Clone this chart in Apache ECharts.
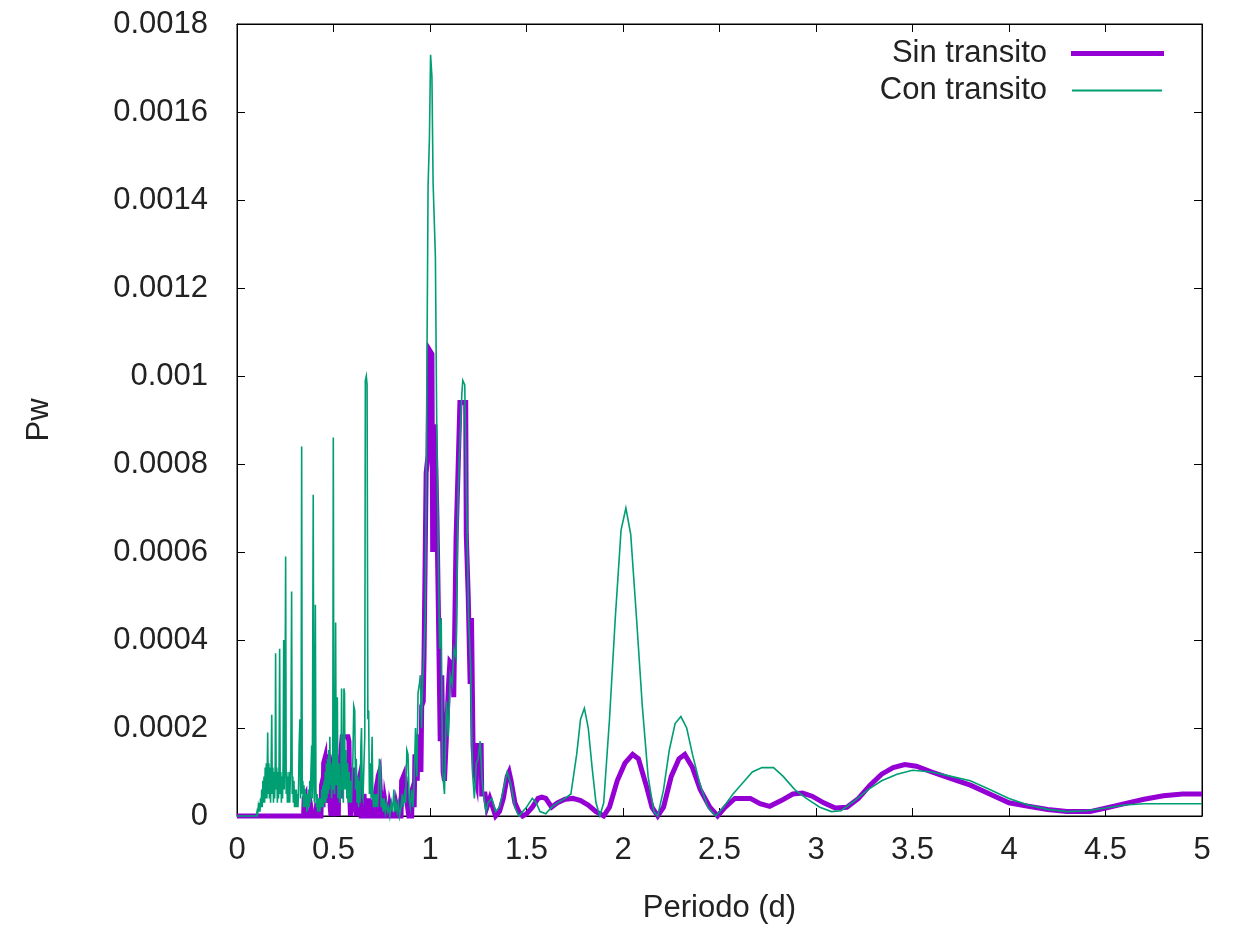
<!DOCTYPE html>
<html>
<head>
<meta charset="utf-8">
<title>Periodograma</title>
<script src="https://cdn.jsdelivr.net/npm/echarts@6/dist/echarts.min.js"></script>
<style>
  html, body { margin: 0; padding: 0; background: #fff; }
  #chart { width: 1233px; height: 929px; }
</style>
</head>
<body>
<div id="chart"></div>
<script>
// Periodogram of the light curve: power (Pw) against trial period in days.

const xTicks = [0, 0.5, 1, 1.5, 2, 2.5, 3, 3.5, 4, 4.5, 5];
const yTicks = [0, 0.0002, 0.0004, 0.0006, 0.0008, 0.001, 0.0012, 0.0014, 0.0016, 0.0018];
const seriesNames = ['Sin transito', 'Con transito'];

// [period (d), power] — light curve with the transits removed
const sinTransito = [
  [0, 0], [0.30, 0], [0.345, 0], [0.348, 0.00004], [0.353, 0.000045], [0.356, 0.00001],
  [0.36, 0], [0.38, 0], [0.383, 0.00002], [0.388, 0.00002], [0.391, 0], [0.41, 0],
  [0.413, 0.00003], [0.418, 0.00003], [0.421, 0], [0.435, 0], [0.438, 0.00007],
  [0.443, 0.00008], [0.446, 0.00002], [0.449, 0.00012], [0.455, 0.00013], [0.458, 0.00004],
  [0.461, 0.00014], [0.47, 0.00014], [0.473, 0.00003], [0.476, 0.00014], [0.48, 0.00013],
  [0.483, 0.00002], [0.487, 0], [0.495, 0], [0.498, 0.00006], [0.503, 0.00007],
  [0.506, 0.00001], [0.51, 0], [0.513, 0.00009], [0.518, 0.00011], [0.521, 0.00003],
  [0.525, 0], [0.528, 0.00012], [0.533, 0.00013], [0.536, 0.00004], [0.539, 0.00015],
  [0.545, 0.00018], [0.575, 0.00018], [0.58, 0.00017], [0.584, 0.00005], [0.588, 0],
  [0.597, 0], [0.60, 0.00008], [0.605, 0.00011], [0.611, 0.00011], [0.614, 0.00002],
  [0.618, 0], [0.628, 0], [0.631, 0.00008], [0.636, 0.00009], [0.639, 0.00002],
  [0.643, 0], [0.655, 0], [0.658, 0.00005], [0.662, 0.00005], [0.665, 0], [0.68, 0],
  [0.683, 0.00004], [0.688, 0.00004], [0.691, 0], [0.705, 0], [0.708, 0.00003],
  [0.712, 0.00004], [0.715, 0], [0.728, 0], [0.731, 0.00009], [0.738, 0.0001],
  [0.742, 0.00006], [0.746, 0.00005], [0.75, 0], [0.765, 0], [0.768, 0.00003],
  [0.776, 0.00003], [0.779, 0], [0.79, 0], [0.793, 0.00002], [0.80, 0.00002], [0.803, 0],
  [0.825, 0], [0.828, 0.00002], [0.835, 0.00002], [0.838, 0], [0.85, 0], [0.853, 0.00008],
  [0.862, 0.00009], [0.866, 0.00003], [0.87, 0.00009], [0.88, 0.00009], [0.884, 0.00002],
  [0.89, 0], [0.905, 0], [0.908, 0.00006], [0.915, 0.00007], [0.918, 0.00002],
  [0.922, 0.00014], [0.93, 0.00014], [0.934, 0.00008], [0.938, 0.00018], [0.95, 0.00018],
  [0.953, 0.0001], [0.957, 0.00025], [0.965, 0.00026], [0.969, 0.00036], [0.977, 0.00036],
  [0.98, 0.00078], [0.99, 0.00082], [0.993, 0.00082], [0.996, 0.00106], [1.01, 0.00105],
  [1.014, 0.0006], [1.022, 0.0006], [1.025, 0.00089], [1.033, 0.00089], [1.036, 0.00068],
  [1.04, 0.00068], [1.043, 0.00048], [1.05, 0.00048], [1.053, 0.00017], [1.058, 0.00017],
  [1.061, 0.00032], [1.065, 0.00032], [1.068, 0.0001], [1.075, 0.00008], [1.082, 0.00008],
  [1.085, 0.00018], [1.092, 0.00018], [1.095, 0.00029], [1.10, 0.00029], [1.103, 0.00035],
  [1.12, 0.00034], [1.123, 0.00027], [1.132, 0.00027], [1.135, 0.00063], [1.142, 0.00063],
  [1.145, 0.00078], [1.152, 0.00078], [1.155, 0.00094], [1.185, 0.00094], [1.188, 0.00064],
  [1.195, 0.00064], [1.198, 0.0005], [1.205, 0.0005], [1.208, 0.0003], [1.212, 0.0003],
  [1.215, 0.00045], [1.22, 0.00045], [1.223, 0.00016], [1.228, 0.00016], [1.231, 0.0001],
  [1.24, 0.00008], [1.245, 0.00016], [1.265, 0.00016], [1.268, 0.00005], [1.285, 0.00005],
  [1.295, 0.00002], [1.31, 0.00004], [1.325, 0.00002], [1.34, 0], [1.36, 0.00001],
  [1.38, 0.00004], [1.40, 0.00009], [1.41, 0.0001], [1.42, 0.00008], [1.44, 0.00003],
  [1.46, 0.00001], [1.48, 0], [1.50, 0.000005], [1.53, 0.00002], [1.56, 0.00004],
  [1.58, 0.000043], [1.60, 0.00004], [1.63, 0.00002], [1.66, 0.00003], [1.70, 0.000038],
  [1.74, 0.00004], [1.78, 0.000035], [1.82, 0.000025], [1.86, 0.00001], [1.90, 0],
  [1.93, 0.00002], [1.97, 0.00008], [2.01, 0.00012], [2.05, 0.00014], [2.08, 0.00013],
  [2.12, 0.00007], [2.15, 0.00002], [2.18, 0], [2.21, 0.00002], [2.25, 0.00009],
  [2.29, 0.00013], [2.32, 0.00014], [2.36, 0.00011], [2.40, 0.00006], [2.45, 0.00002],
  [2.49, 0], [2.53, 0.00002], [2.58, 0.00004], [2.62, 0.00004], [2.66, 0.00004],
  [2.71, 0.000028], [2.76, 0.000022], [2.82, 0.000035], [2.88, 0.00005], [2.93, 0.000052],
  [2.98, 0.000045], [3.04, 0.00003], [3.10, 0.000018], [3.16, 0.00002], [3.22, 0.00004],
  [3.28, 0.00007], [3.34, 0.000095], [3.40, 0.00011], [3.46, 0.000117], [3.52, 0.000113],
  [3.60, 0.0001], [3.70, 0.000085], [3.80, 0.00007], [3.90, 0.00005], [4.00, 0.00003],
  [4.10, 0.000022], [4.20, 0.000015], [4.30, 0.00001], [4.42, 0.00001], [4.50, 0.000018],
  [4.60, 0.000028], [4.70, 0.000038], [4.80, 0.000046], [4.90, 0.00005], [5.00, 0.00005]
];

// [period (d), power] — full light curve, transits included
const conTransito = [
  [0, 0], [0.100, 0], [0.104, 0.00001], [0.107, 0.000005], [0.110, 0.00002], [0.113, 0.00001],
  [0.116, 0.00003], [0.119, 0.00001], [0.122, 0.00004], [0.125, 0.00002], [0.128, 0.00006],
  [0.131, 0.00002], [0.134, 0.00008], [0.137, 0.00003], [0.140, 0.00009], [0.143, 0.00003],
  [0.146, 0.00011], [0.149, 0.00004], [0.152, 0.00012], [0.155, 0.00004], [0.159, 0.00019],
  [0.162, 0.00005], [0.165, 0.00012], [0.168, 0.00004], [0.171, 0.00011], [0.174, 0.00003],
  [0.177, 0.00012], [0.180, 0.00023], [0.183, 0.00005], [0.186, 0.00011], [0.189, 0.00003],
  [0.192, 0.0001], [0.195, 0.00004], [0.198, 0.00012], [0.200, 0.00037], [0.203, 0.00006],
  [0.206, 0.00011], [0.209, 0.00003], [0.212, 0.0001], [0.215, 0.00004], [0.218, 0.00012],
  [0.221, 0.00038], [0.224, 0.00005], [0.227, 0.0001], [0.230, 0.00003], [0.233, 0.00009],
  [0.236, 0.00004], [0.239, 0.00012], [0.242, 0.0004], [0.245, 0.00006], [0.248, 0.00013],
  [0.252, 0.00059], [0.255, 0.00005], [0.258, 0.0001], [0.261, 0.00003], [0.264, 0.00009],
  [0.267, 0.00003], [0.270, 0.0001], [0.273, 0.00003], [0.276, 0.00008], [0.279, 0.00012],
  [0.283, 0.00051], [0.286, 0.00005], [0.289, 0.00009], [0.292, 0.00003], [0.295, 0.00008],
  [0.298, 0.00002], [0.301, 0.00006], [0.304, 0.00002], [0.307, 0.00006], [0.310, 0.00002],
  [0.313, 0.00005], [0.316, 0.00002], [0.319, 0.00007], [0.322, 0.00016], [0.326, 0.00022],
  [0.329, 0.00004], [0.332, 0.00008], [0.335, 0.00084], [0.338, 0.00005], [0.341, 0.00008],
  [0.344, 0.00002], [0.347, 0.00007], [0.350, 0.00002], [0.353, 0.00006], [0.356, 0.00002],
  [0.359, 0.00005], [0.362, 0.00001], [0.365, 0.00005], [0.368, 0.00002], [0.371, 0.00006],
  [0.374, 0.00002], [0.377, 0.00008], [0.380, 0.00003], [0.383, 0.0001], [0.387, 0.00016],
  [0.390, 0.00004], [0.395, 0.00073], [0.398, 0.00008], [0.401, 0.00003], [0.406, 0.00048],
  [0.409, 0.00006], [0.412, 0.00002], [0.415, 0.00005], [0.418, 0.00001], [0.421, 0.00004],
  [0.424, 0.00001], [0.427, 0.00004], [0.430, 0.00001], [0.433, 0.00004], [0.436, 0.00002],
  [0.439, 0.00006], [0.442, 0.00002], [0.445, 0.00007], [0.448, 0.00002], [0.451, 0.00008],
  [0.454, 0.00003], [0.457, 0.0001], [0.460, 0.00003], [0.463, 0.00012], [0.466, 0.00004],
  [0.469, 0.00013], [0.472, 0.00005], [0.475, 0.00015], [0.478, 0.00006], [0.481, 0.00018],
  [0.484, 0.00007], [0.487, 0.00012], [0.490, 0.00004], [0.493, 0.0001], [0.496, 0.00006],
  [0.499, 0.00086], [0.502, 0.00008], [0.505, 0.00005], [0.508, 0.00012], [0.511, 0.00044],
  [0.514, 0.00007], [0.517, 0.00009], [0.520, 0.00027], [0.523, 0.00004], [0.526, 0.00008],
  [0.529, 0.00012], [0.532, 0.00003], [0.535, 0.00007], [0.538, 0.00004], [0.542, 0.00029],
  [0.545, 0.00006], [0.548, 0.00009], [0.551, 0.00003], [0.554, 0.00029], [0.557, 0.00028],
  [0.560, 0.00006], [0.565, 0.00015], [0.569, 0.00004], [0.573, 0.00012], [0.577, 0.00003],
  [0.581, 0.0001], [0.585, 0.00003], [0.589, 0.00008], [0.593, 0.00003], [0.60, 0.00012],
  [0.605, 0.00025], [0.61, 0.00024], [0.614, 0.00006], [0.618, 0.00013], [0.622, 0.00003],
  [0.626, 0.00009], [0.63, 0.00002], [0.634, 0.00008], [0.638, 0.00003], [0.642, 0.00016],
  [0.645, 0.0002], [0.649, 0.00005], [0.653, 0.00004], [0.658, 0.00012], [0.662, 0.00018],
  [0.665, 0.00099], [0.67, 0.001], [0.674, 0.00098], [0.678, 0.00022], [0.682, 0.00024],
  [0.686, 0.00005], [0.69, 0.00012], [0.695, 0.00004], [0.70, 0.00018], [0.704, 0.00004],
  [0.708, 0.00002], [0.713, 0.00005], [0.718, 0.00002], [0.723, 0.00005], [0.728, 0.00002],
  [0.733, 0.00006], [0.738, 0.00013], [0.743, 0.00011], [0.747, 0.00002], [0.752, 0.00004],
  [0.757, 0.00001], [0.762, 0.00004], [0.768, 0.00001], [0.774, 0.00003], [0.78, 0.00001],
  [0.786, 0.00002], [0.792, 0], [0.80, 0.00003], [0.806, 0.00001], [0.813, 0.00006],
  [0.818, 0.00001], [0.824, 0.00003], [0.83, 0.00001], [0.836, 0.00003], [0.842, 0],
  [0.85, 0.00002], [0.856, 0.00005], [0.862, 0.00002], [0.868, 0.00005], [0.874, 0.00003],
  [0.88, 0.00015], [0.886, 0.00014], [0.892, 0.00004], [0.898, 0.00002], [0.905, 0.00006],
  [0.912, 0.00002], [0.918, 0.00008], [0.925, 0.0002], [0.932, 0.00009], [0.938, 0.00028],
  [0.945, 0.0003], [0.95, 0.00032], [0.956, 0.0002], [0.962, 0.00031], [0.968, 0.00036],
  [0.975, 0.00045], [0.98, 0.00074], [0.99, 0.00143], [0.997, 0.00154], [1.003, 0.00173],
  [1.01, 0.00168], [1.016, 0.00144], [1.022, 0.00144], [1.028, 0.00127], [1.035, 0.00088],
  [1.045, 0.00052], [1.05, 0.00038], [1.058, 0.00045], [1.065, 0.0001], [1.075, 0.00005],
  [1.085, 0.00026], [1.095, 0.00018], [1.105, 0.00032], [1.115, 0.0003], [1.125, 0.00038],
  [1.135, 0.00036], [1.145, 0.00072], [1.155, 0.00085], [1.165, 0.00096], [1.17, 0.00099],
  [1.18, 0.00098], [1.19, 0.0007], [1.20, 0.00045], [1.21, 0.00035], [1.22, 0.0001],
  [1.23, 0.00004], [1.24, 0.00012], [1.25, 0.00013], [1.26, 0.00017], [1.27, 0.00008],
  [1.28, 0.00004], [1.29, 0.00001], [1.30, 0.00003], [1.32, 0.00004], [1.34, 0.00001],
  [1.36, 0.00002], [1.38, 0.00006], [1.40, 0.0001], [1.41, 0.0001], [1.42, 0.00007],
  [1.44, 0.00002], [1.46, 0], [1.48, 0.00001], [1.50, 0.00002], [1.53, 0.00004],
  [1.55, 0.00003], [1.57, 0.00001], [1.60, 0.000005], [1.63, 0.00002], [1.66, 0.00003],
  [1.70, 0.00004], [1.73, 0.00005], [1.76, 0.00014], [1.78, 0.00022], [1.80, 0.000245],
  [1.82, 0.0002], [1.84, 0.00011], [1.86, 0.00003], [1.88, 0], [1.90, 0.00003],
  [1.93, 0.00022], [1.96, 0.00045], [1.99, 0.00065], [2.015, 0.0007], [2.04, 0.00064],
  [2.07, 0.00045], [2.10, 0.00025], [2.13, 0.00009], [2.16, 0.00001], [2.18, 0],
  [2.21, 0.00006], [2.24, 0.00015], [2.27, 0.00021], [2.30, 0.000226], [2.33, 0.0002],
  [2.36, 0.00014], [2.40, 0.00007], [2.44, 0.00002], [2.48, 0], [2.52, 0.00002],
  [2.57, 0.00005], [2.62, 0.000075], [2.67, 0.0001], [2.72, 0.00011], [2.78, 0.00011],
  [2.83, 0.00009], [2.89, 0.00006], [2.95, 0.00004], [3.02, 0.00002], [3.08, 0.00001],
  [3.13, 0.000012], [3.20, 0.000035], [3.27, 0.00006], [3.34, 0.00008], [3.42, 0.000095],
  [3.50, 0.000104], [3.60, 0.0001], [3.70, 0.00009], [3.80, 0.00008], [3.90, 0.00006],
  [4.00, 0.00004], [4.10, 0.000025], [4.20, 0.000015], [4.30, 0.00001], [4.40, 0.000012],
  [4.50, 0.000018], [4.60, 0.000025], [4.70, 0.000028], [4.80, 0.000028], [4.90, 0.000028],
  [5.00, 0.000028]
];

const FONT = 'Liberation Sans, Arial, sans-serif';
const TEXT = '#222';
const FS = 31;

const fmtY = v => (v === 0 ? '0' : String(parseFloat(v.toPrecision(6))));
const fmtX = v => String(parseFloat(v.toPrecision(6)));

const xMin = xTicks[0], xMax = xTicks[xTicks.length - 1];
const xStep = xTicks[1] - xTicks[0];
const yMin = yTicks[0], yMax = yTicks[yTicks.length - 1];
const yStep = yTicks[1] - yTicks[0];

const tickCommon = { show: true, inside: true, length: 8, lineStyle: { color: '#000', width: 1 } };
const lineCommon = { show: true, onZero: false, lineStyle: { color: '#000', width: 1 } };

const chart = echarts.init(document.getElementById('chart'), null, { renderer: 'canvas' });

chart.setOption({
  animation: false,
  backgroundColor: '#fff',
  textStyle: { fontFamily: FONT },
  grid: {
    left: 237, top: 24, width: 965, height: 796,
    show: true, borderColor: '#000', borderWidth: 1, backgroundColor: 'transparent'
  },
  legend: [
    {
      data: [{ name: seriesNames[0], icon: 'rect' }],
      right: 64, top: 33, align: 'right',
      itemWidth: 93, itemHeight: 5,
      textStyle: { fontSize: FS, color: TEXT, fontFamily: FONT, padding: [0, 19, 0, 0] },
      selectedMode: false
    },
    {
      data: [{ name: seriesNames[1], icon: 'rect' }],
      right: 66, top: 70, align: 'right',
      itemWidth: 90, itemHeight: 2,
      textStyle: { fontSize: FS, color: TEXT, fontFamily: FONT, padding: [0, 20, 0, 0] },
      selectedMode: false
    }
  ],
  xAxis: [
    {
      type: 'value', position: 'bottom', min: xMin, max: xMax, interval: xStep,
      name: 'Periodo (d)', nameLocation: 'middle', nameGap: 77,
      nameTextStyle: { fontSize: FS, color: TEXT, fontFamily: FONT },
      axisLine: lineCommon, axisTick: tickCommon, splitLine: { show: false },
      axisLabel: { show: true, margin: 19, fontSize: FS, color: TEXT, fontFamily: FONT, formatter: fmtX }
    },
    {
      type: 'value', position: 'top', min: xMin, max: xMax, interval: xStep,
      axisLine: lineCommon, axisTick: tickCommon, splitLine: { show: false },
      axisLabel: { show: false }
    }
  ],
  yAxis: [
    {
      type: 'value', position: 'left', min: yMin, max: yMax, interval: yStep,
      name: 'Pw', nameLocation: 'middle', nameGap: 182, nameRotate: 90,
      nameTextStyle: { fontSize: FS, color: TEXT, fontFamily: FONT },
      axisLine: lineCommon, axisTick: tickCommon, splitLine: { show: false },
      axisLabel: { show: true, margin: 29, fontSize: FS, color: TEXT, fontFamily: FONT, formatter: fmtY }
    },
    {
      type: 'value', position: 'right', min: yMin, max: yMax, interval: yStep,
      axisLine: lineCommon, axisTick: tickCommon, splitLine: { show: false },
      axisLabel: { show: false }
    }
  ],
  series: [
    {
      name: seriesNames[0], type: 'line', data: sinTransito,
      xAxisIndex: 0, yAxisIndex: 0,
      showSymbol: false, symbol: 'none', clip: false, sampling: null,
      color: '#9400d3',
      lineStyle: { color: '#9400d3', width: 5, join: 'miter' },
      emphasis: { disabled: true }, z: 2
    },
    {
      name: seriesNames[1], type: 'line', data: conTransito,
      xAxisIndex: 0, yAxisIndex: 0,
      showSymbol: false, symbol: 'none', clip: false, sampling: null,
      color: '#009e73',
      lineStyle: { color: '#009e73', width: 1.6, join: 'miter' },
      emphasis: { disabled: true }, z: 3
    }
  ]
});
</script>
</body>
</html>
